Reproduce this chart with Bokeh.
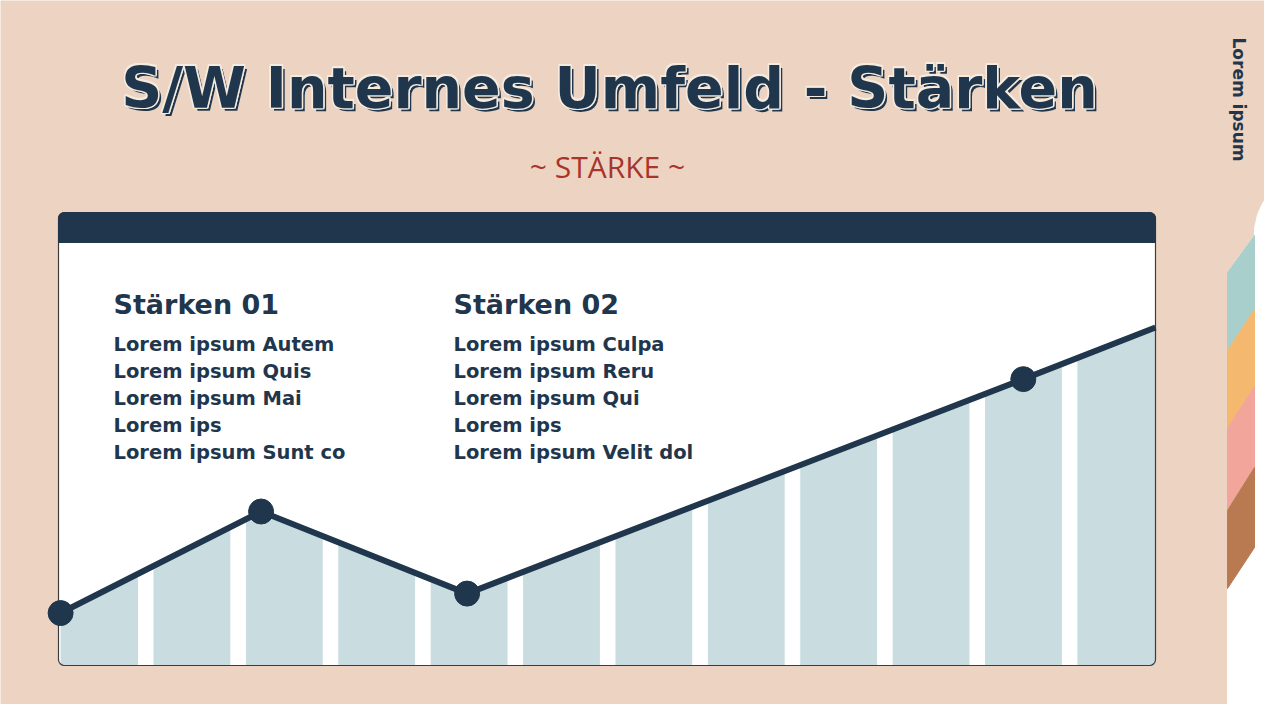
import math
from bokeh.plotting import figure
from bokeh.models import Range1d
from bokeh.core.properties import value
from bokeh.embed import file_html
from bokeh.resources import INLINE

# --- chart data ---
# trend points, x in column units (column 0 starts at 0), y on a 0-100 scale
points_x = [0.0, 2.17, 4.40, 10.42]
points_y = [12.4, 36.4, 17.0, 67.7]
end_x = 11.85
end_y = 79.9
n_columns = 12
column_width = 0.843

title = "S/W Internes Umfeld - Stärken"
subtitle = "~ STÄRKE ~"
side_label = "Lorem ipsum"
col1_title = "Stärken 01"
col1_items = ["Lorem ipsum Autem", "Lorem ipsum Quis", "Lorem ipsum Mai",
              "Lorem ips", "Lorem ipsum Sunt co"]
col2_title = "Stärken 02"
col2_items = ["Lorem ipsum Culpa", "Lorem ipsum Reru", "Lorem ipsum Qui",
              "Lorem ips", "Lorem ipsum Velit dol"]

# --- colours ---
BEIGE = "#edd4c2"
NAVY = "#1f364c"
CREAM = "#f6ebdf"
RED = "#a8342b"
BAR = "#c9dde0"
TEAL = "#a9cfcc"
ORANGE = "#f4b96f"
PINK = "#f2a69b"
BROWN = "#b97a52"
BOLD_FONT = value("DejaVu Sans")


def Y(v):
    # page pixel (from top) -> data y
    return 720 - v


p = figure(width=1264, height=704, x_range=Range1d(8, 1272), y_range=Range1d(8, 712),
           output_backend="svg", toolbar_location=None, min_border=0,
           x_axis_location=None, y_axis_location=None)
p.grid.visible = False
p.outline_line_color = None
p.background_fill_color = BEIGE
p.border_fill_color = BEIGE

# chart panel geometry (page pixels)
PL, PR, PT, PB = 66, 1163, 220, 673
HEAD = 250
X0, UX = 68.1, 92.39          # column 0 left edge, pixels per column
UY = (PB - HEAD) / 100.0      # pixels per y unit

p.extra_x_ranges = {"cx": Range1d((8 - X0) / UX, (1272 - X0) / UX)}
p.extra_y_ranges = {"cy": Range1d((PB - 712) / UY, (PB - 8) / UY)}

# right side decoration
white_x = [1235, 1235, 1262, 1262, 1265, 1270, 1276, 1282, 1282]
white_y = [720, 280, 243, 236, 222, 211, 202, 196, 720]
p.patch(white_x, [Y(v) for v in white_y], color="white")
stripes = [(TEAL, 280, 243, 317, 358), (ORANGE, 358, 317, 394, 436),
           (PINK, 436, 394, 475, 518), (BROWN, 518, 475, 555, 596)]
for c, a, b, d, e in stripes:
    p.patch([1235, 1262, 1262, 1235], [Y(a), Y(b), Y(d), Y(e)], color=c)

p.text(x=[1246], y=[Y(107)], text=[side_label], angle=-math.pi / 2,
       text_align="center", text_baseline="middle", text_font=BOLD_FONT,
       text_font_style="bold", text_font_size="17px", text_color=NAVY)

# title with outline and drop shadow
tx, ty = 617, Y(128)
tsize = "57px"
p.text(x=[tx], y=[ty], text=[title], x_offset=3, y_offset=3, text_align="center",
       text_font=BOLD_FONT, text_font_style="bold", text_font_size=tsize, text_color=NAVY)
for dx, dy in [(-1.5, 0), (1.5, 0), (0, -1.5), (0, 1.5), (-1.2, -1.2), (1.2, 1.2), (-1.2, 1.2), (1.2, -1.2)]:
    p.text(x=[tx], y=[ty], text=[title], x_offset=dx, y_offset=dy, text_align="center",
           text_font=BOLD_FONT, text_font_style="bold", text_font_size=tsize, text_color=CREAM)
p.text(x=[tx], y=[ty], text=[title], text_align="center",
       text_font=BOLD_FONT, text_font_style="bold", text_font_size=tsize, text_color=NAVY)

p.text(x=[615], y=[Y(194)], text=[subtitle], text_align="center",
       text_font=value("Open Sans"), text_font_size="30px", text_color=RED)

# panel
p.quad(left=[PL], right=[PR], top=[Y(PT)], bottom=[Y(PB)], fill_color="white",
       line_color=None, border_radius=6)

# area under the trend, split into columns by white gaps
line_x = points_x + [end_x]
line_y = points_y + [end_y]
p.varea(x=line_x, y1=[0] * len(line_x), y2=line_y, fill_color=BAR,
        x_range_name="cx", y_range_name="cy")
gap = 1 - column_width
gap_x = [i + column_width + gap / 2 for i in range(n_columns - 1)]
p.vbar(x=gap_x, width=gap, bottom=0, top=100, color="white",
       x_range_name="cx", y_range_name="cy")

p.quad(left=[PL], right=[PR], top=[Y(PT)], bottom=[Y(PB)], fill_color=None,
       line_color="#3c3c3c", line_width=1.2, border_radius=6)
p.quad(left=[PL], right=[PR], top=[Y(PT)], bottom=[Y(HEAD)], color=NAVY,
       border_radius=(6, 6, 0, 0))

p.line(line_x, line_y, line_color=NAVY, line_width=6,
       x_range_name="cx", y_range_name="cy")
p.scatter(points_x, points_y, size=25, color=NAVY,
          x_range_name="cx", y_range_name="cy")

# text columns
for cx, head, items in [(121, col1_title, col1_items), (461, col2_title, col2_items)]:
    p.text(x=[cx], y=[Y(327)], text=[head], text_font=BOLD_FONT, text_font_style="bold",
           text_font_size="27px", text_color=NAVY)
    p.text(x=[cx] * len(items), y=[Y(363 + 27 * i) for i in range(len(items))], text=items,
           text_font=BOLD_FONT, text_font_style="bold", text_font_size="19.5px", text_color=NAVY)

open("out.html", "w").write(file_html(p, INLINE))
